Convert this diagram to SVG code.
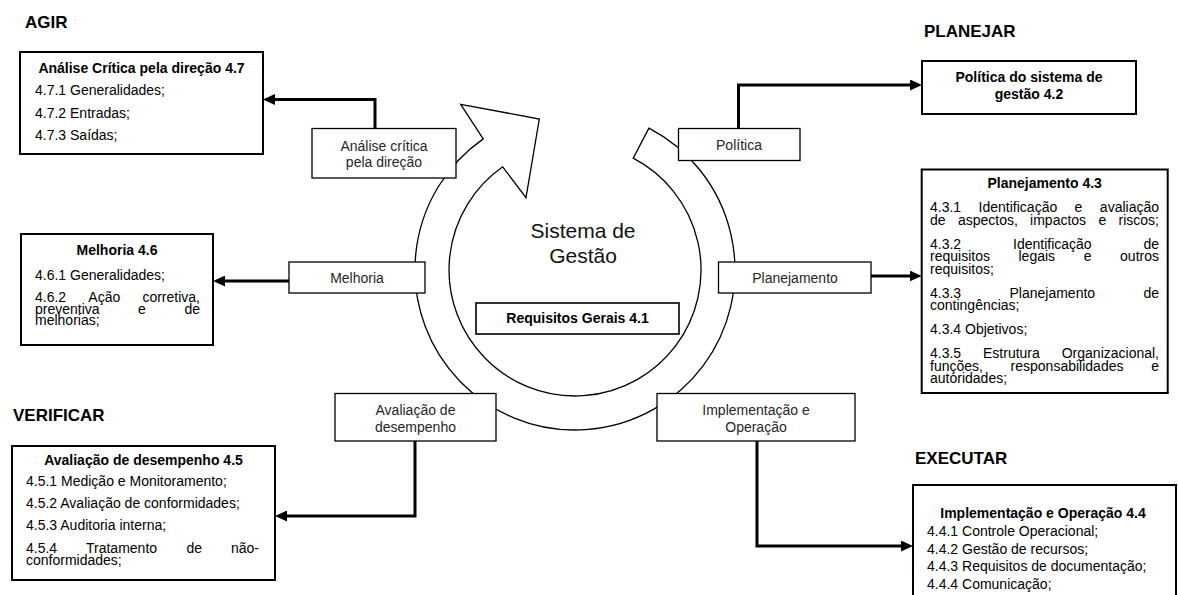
<svg xmlns="http://www.w3.org/2000/svg" width="1178" height="595" viewBox="0 0 1178 595">
<defs>
<style>
text{font-family:"Liberation Sans",Arial,Helvetica,sans-serif;fill:#000}
.h{font-weight:bold;font-size:17px}
.b{font-weight:bold;font-size:14px}
.t{font-size:14px}
.n{font-size:14px;fill:#262626}
.c{font-size:21px;fill:#111}
.box{fill:#fff;stroke:#000;stroke-width:2}
.nbox{fill:#fff;stroke:#000;stroke-width:1.3}
.ring{fill:#fff;stroke:#000;stroke-width:1.3}
.conn{fill:none;stroke:#000;stroke-width:3}
.mid{text-anchor:middle}
.end{text-anchor:end}
</style>
<marker id="ah" viewBox="0 0 12 11" markerWidth="12" markerHeight="11" refX="4" refY="5.5" markerUnits="userSpaceOnUse" orient="auto">
<path d="M0,0 L12,5.5 L0,11 z" fill="#000"/>
</marker>
</defs>
<rect width="1178" height="595" fill="#fff"/>

<g id="headers">
<text class="h" x="25" y="28">AGIR</text>
<text class="h" x="924" y="37">PLANEJAR</text>
<text class="h" x="13" y="421">VERIFICAR</text>
<text class="h" x="915" y="464">EXECUTAR</text>
</g>

<g id="cycle">
<path class="ring" d="M648.9,128.1 A160,160 0 1 1 483.2,138.9 L460.7,104.3 L539.3,119 L526,197.7 L502.7,166.8 A126,126 0 1 0 633.2,158.2 Z"/>
<text class="c mid" x="583" y="238">Sistema de</text>
<text class="c mid" x="583" y="263">Gestão</text>
</g>

<g id="connectors">
<path class="conn" d="M375,128 V99.5 H271" marker-end="url(#ah)"/>
<path class="conn" d="M738.5,128 V85 H914" marker-end="url(#ah)"/>
<path class="conn" d="M289,281 H221" marker-end="url(#ah)"/>
<path class="conn" d="M871,276 H913.7" marker-end="url(#ah)"/>
<path class="conn" d="M415,441 V516 H283" marker-end="url(#ah)"/>
<path class="conn" d="M757,441 V546 H905" marker-end="url(#ah)"/>
</g>

<g id="node-analise">
<rect class="nbox" x="312" y="128.5" width="144" height="49.5"/>
<text class="n mid" x="384" y="151">Análise crítica</text>
<text class="n mid" x="384" y="167">pela direção</text>
</g>
<g id="node-politica">
<rect class="nbox" x="678.5" y="128.5" width="121.5" height="32"/>
<text class="n mid" x="739" y="150">Política</text>
</g>
<g id="node-melhoria">
<rect class="nbox" x="289" y="262" width="136" height="31"/>
<text class="n mid" x="357" y="283">Melhoria</text>
</g>
<g id="node-planejamento">
<rect class="nbox" x="718.5" y="262" width="152.5" height="31"/>
<text class="n mid" x="795" y="283">Planejamento</text>
</g>
<g id="node-requisitos">
<rect class="nbox" x="476" y="303" width="203" height="31" style="stroke-width:1.6"/>
<text class="b mid" x="577.5" y="323">Requisitos Gerais 4.1</text>
</g>
<g id="node-avaliacao">
<rect class="nbox" x="335" y="393.5" width="161" height="47.5"/>
<text class="n mid" x="415.5" y="414.5">Avaliação de</text>
<text class="n mid" x="415.5" y="432">desempenho</text>
</g>
<g id="node-implementacao">
<rect class="nbox" x="657" y="393.5" width="198" height="47.5"/>
<text class="n mid" x="756" y="414.5">Implementação e</text>
<text class="n mid" x="756" y="432">Operação</text>
</g>

<g id="box-47">
<rect class="box" x="20" y="52" width="243" height="102"/>
<text class="b mid" x="141.5" y="73">Análise Crítica pela direção 4.7</text>
<text class="t" x="35" y="94.5">4.7.1 Generalidades;</text>
<text class="t" x="35" y="117.5">4.7.2 Entradas;</text>
<text class="t" x="35" y="140">4.7.3 Saídas;</text>
</g>

<g id="box-46">
<rect class="box" x="21" y="234" width="192" height="111"/>
<text class="b mid" x="117" y="255">Melhoria 4.6</text>
<text class="t" x="35" y="280">4.6.1 Generalidades;</text>
<text class="t" y="302"><tspan x="35">4.6.2</tspan><tspan x="88.3">Ação</tspan><tspan x="200" class="end">corretiva,</tspan></text>
<text class="t" y="313.5"><tspan x="35">preventiva</tspan><tspan x="138.1">e</tspan><tspan x="200" class="end">de</tspan></text>
<text class="t" x="35" y="325">melhorias;</text>
</g>

<g id="box-45">
<rect class="box" x="12" y="446" width="263" height="134"/>
<text class="b mid" x="143.5" y="465">Avaliação de desempenho 4.5</text>
<text class="t" x="26" y="486">4.5.1 Medição e Monitoramento;</text>
<text class="t" x="26" y="508">4.5.2 Avaliação de conformidades;</text>
<text class="t" x="26" y="530">4.5.3 Auditoria interna;</text>
<text class="t" y="553"><tspan x="26">4.5.4</tspan><tspan x="86">Tratamento</tspan><tspan x="186.5">de</tspan><tspan x="259" class="end">não-</tspan></text>
<text class="t" x="26" y="564.5">conformidades;</text>
</g>

<g id="box-42">
<rect class="box" x="922" y="61" width="214" height="53"/>
<text class="b mid" x="1029" y="82">Política do sistema de</text>
<text class="b mid" x="1029" y="99">gestão 4.2</text>
</g>

<g id="box-43">
<rect class="box" x="921.7" y="169.5" width="246" height="223.5"/>
<text class="b mid" x="1044.7" y="188">Planejamento 4.3</text>
<text class="t" y="212"><tspan x="930">4.3.1</tspan><tspan x="978.6">Identificação</tspan><tspan x="1074.6">e</tspan><tspan x="1159" class="end">avaliação</tspan></text>
<text class="t" y="224.5"><tspan x="930">de</tspan><tspan x="957.9">aspectos,</tspan><tspan x="1030.1">impactos</tspan><tspan x="1098.5">e</tspan><tspan x="1159" class="end">riscos;</tspan></text>
<text class="t" y="248.5"><tspan x="930">4.3.2</tspan><tspan x="1013">Identificação</tspan><tspan x="1159" class="end">de</tspan></text>
<text class="t" y="261"><tspan x="930">requisitos</tspan><tspan x="1018.5">legais</tspan><tspan x="1083.7">e</tspan><tspan x="1159" class="end">outros</tspan></text>
<text class="t" x="930" y="273.5">requisitos;</text>
<text class="t" y="297.5"><tspan x="930">4.3.3</tspan><tspan x="1009.5">Planejamento</tspan><tspan x="1159" class="end">de</tspan></text>
<text class="t" x="930" y="310">contingências;</text>
<text class="t" x="930" y="334">4.3.4 Objetivos;</text>
<text class="t" y="358"><tspan x="930">4.3.5</tspan><tspan x="983">Estrutura</tspan><tspan x="1159" class="end">Organizacional,</tspan></text>
<text class="t" y="370.5"><tspan x="930">funções,</tspan><tspan x="1010.6">responsabilidades</tspan><tspan x="1159" class="end">e</tspan></text>
<text class="t" x="930" y="383">autoridades;</text>
</g>

<g id="box-44">
<rect class="box" x="913" y="485" width="263" height="130"/>
<text class="b mid" x="1043" y="518">Implementação e Operação 4.4</text>
<text class="t" x="927" y="536">4.4.1 Controle Operacional;</text>
<text class="t" x="927" y="553.5">4.4.2 Gestão de recursos;</text>
<text class="t" x="927" y="571">4.4.3 Requisitos de documentação;</text>
<text class="t" x="927" y="588.5">4.4.4 Comunicação;</text>
</g>
</svg>
